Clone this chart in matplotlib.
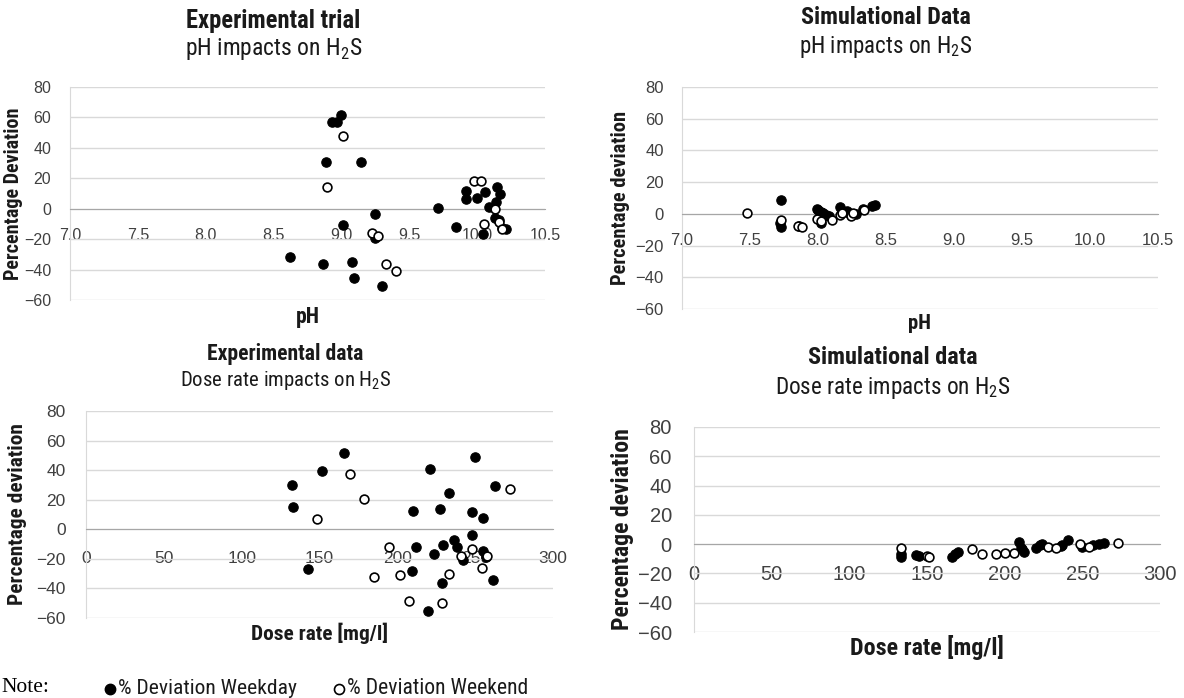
import matplotlib
matplotlib.use("Agg")
import matplotlib.pyplot as plt
from matplotlib import font_manager

W, H = 1184, 698

# ---- data
# experimental, pH
ph_exp_wd = [9.00, 8.93, 8.97, 8.885, 9.145, 10.15, 9.92, 10.06, 10.17, 9.92, 10.00, 10.14,
             9.71, 10.09, 9.245, 10.135, 10.16, 9.01, 9.845, 10.21, 10.18, 10.04, 9.25,
             8.62, 8.865, 9.08, 9.09, 9.30]
dev_ph_exp_wd = [61.5, 56.8, 56.8, 30.5, 30.5, 14.5, 11.5, 11.0, 9.5, 6.5, 7.0, 4.5,
                 0.6, 1.0, -3.5, -6.0, -7.5, -10.8, -12.0, -13.2, -12.8, -16.5, -19.5,
                 -31.8, -36.4, -34.9, -45.8, -50.6]
ph_exp_we = [9.01, 8.895, 9.98, 10.025, 10.13, 10.05, 10.16, 10.18, 9.225, 9.27, 9.33, 9.40]
dev_ph_exp_we = [48.0, 14.4, 18.5, 18.0, 0.0, -10.0, -8.5, -13.2, -16.0, -18.0, -36.6, -41.0]

# simulation, pH
ph_sim_wd = [7.73, 7.72, 7.73, 7.86, 7.99, 8.00, 8.02, 8.04, 8.06, 8.08, 8.02, 8.16, 8.18,
             8.21, 8.23, 8.28, 8.33, 8.40, 8.42]
dev_ph_sim_wd = [9.0, -5.5, -8.5, -7.5, 3.2, 2.5, 1.0, 0.5, -0.5, -1.5, -6.0, 4.2, 1.5,
                 2.0, 0.5, 0.0, 3.0, 4.8, 5.4]
ph_sim_we = [7.48, 7.73, 7.85, 7.88, 7.99, 8.02, 8.10, 8.16, 8.18, 8.24, 8.26, 8.34]
dev_ph_sim_we = [0.3, -3.8, -7.8, -8.5, -3.5, -4.3, -4.0, -1.0, 0.5, -1.5, 0.5, 2.5]

# experimental, dose rate
dose_exp_wd = [132.4, 132.8, 151.3, 166.0, 142.4, 210.0, 212.0, 209.5, 221.2, 223.5, 227.7,
               229.5, 233.0, 236.5, 238.3, 242.0, 228.5, 220.0, 249.8, 248.1, 248.1, 255.1,
               255.1, 256.8, 262.8, 261.6]
dev_dose_exp_wd = [30.2, 15.1, 39.3, 51.9, -26.7, 12.1, -12.2, -27.9, 40.5, -16.5, 14.0,
                   -10.8, 24.4, -7.1, -11.8, -21.0, -36.5, -55.0, 48.8, 11.6, -4.0, 7.4,
                   -14.7, -18.6, 29.1, -34.2]
dose_exp_we = [148.7, 169.6, 178.5, 194.5, 185.0, 201.5, 207.3, 228.5, 233.5, 241.0, 248.0,
               254.1, 257.3, 272.4]
dev_dose_exp_we = [7.0, 37.4, 20.2, -11.7, -32.0, -30.7, -48.5, -50.0, -30.3, -18.0, -13.0,
                   -26.3, -18.4, 27.4]

# simulation, dose rate
dose_sim_wd = [133.0, 133.5, 143.0, 145.0, 166.0, 168.0, 170.0, 209.5, 210.5, 211.0, 212.5,
               220.0, 222.5, 224.0, 236.0, 237.0, 240.5, 249.5, 257.0, 261.0, 264.0]
dev_dose_sim_wd = [-7.0, -8.8, -7.6, -8.3, -8.8, -7.0, -5.1, 1.5, -2.4, -3.5, -5.2,
                   -2.4, -0.8, 0.3, -1.5, -0.8, 2.8, -1.8, -0.5, 0.4, 1.1]
dose_sim_we = [133.3, 150.0, 151.0, 179.0, 185.5, 194.5, 200.5, 206.0, 228.0, 233.0, 248.3,
               254.3, 273.0]
dev_dose_sim_we = [-2.8, -8.1, -8.8, -3.5, -6.5, -6.5, -6.0, -6.0, -2.0, -2.4, 0.4, -1.8, 1.1]

ph_ticks = [7.0, 7.5, 8.0, 8.5, 9.0, 9.5, 10.0, 10.5]
dose_ticks = [0, 50, 100, 150, 200, 250, 300]
dev_ticks = [-60, -40, -20, 0, 20, 40, 60, 80]
series_labels = ["% Deviation Weekday", "% Deviation Weekend"]


def pick_narrow():
    fl = font_manager.fontManager.ttflist
    names = {f.name for f in fl}
    for fam in ("Liberation Sans Narrow", "Roboto Condensed", "Open Sans Condensed",
                "Noto Sans Condensed", "DejaVu Sans Condensed"):
        if fam in names:
            return fam, "normal"
    for fam in ("Roboto", "Noto Sans", "DejaVu Sans", "Open Sans"):
        for f in fl:
            if f.name == fam and str(f.stretch) in ("condensed", "semi-condensed"):
                return fam, "condensed"
    return "Roboto", "normal"


NARROW, STRETCH = pick_narrow()
SANS = "Liberation Sans"
SERIF = "Liberation Serif"
plt.rcParams["mathtext.fontset"] = "custom"
plt.rcParams["mathtext.rm"] = NARROW

GRID, AXIS, TXT, INK = "#d9d9d9", "#a6a6a6", "#404040", "#1a1a1a"

fig = plt.figure(figsize=(W / 100, H / 100), dpi=100)
to_fit = []  # (text, target px, rotated)


def px(x, y):
    return x / W, 1 - y / H


def label(x, y, s, width, bold=False, rot=0):
    t = fig.text(*px(x, y), s, ha="center", va="center", rotation=rot, fontsize=12,
                 fontweight="bold" if bold else "normal", family=NARROW,
                 fontstretch=STRETCH, color=INK)
    to_fit.append((t, width, rot != 0))
    return t


def panel(box, xs_wd, ys_wd, xs_we, ys_we, xticks, fmt, tick_fs, pads, texts):
    l, t, r, b = box
    ax = fig.add_axes([l / W, 1 - b / H, (r - l) / W, (b - t) / H])
    ax.scatter(xs_wd, ys_wd, s=46, c="black", edgecolors="black", linewidths=0.8, zorder=3,
               clip_on=False)
    ax.scatter(xs_we, ys_we, s=40, c="white", edgecolors="black", linewidths=1.2, zorder=4,
               clip_on=False)
    ax.set_xlim(xticks[0], xticks[-1])
    ax.set_ylim(-60, 80)
    ax.set_xticks(xticks)
    ax.set_xticklabels([fmt.format(v) for v in xticks])
    ax.set_yticks(dev_ticks)
    ax.yaxis.grid(True, color=GRID, lw=1.0)
    ax.set_axisbelow(True)
    ax.spines["bottom"].set_position(("data", 0))
    ax.spines["bottom"].set_color(AXIS)
    ax.spines["left"].set_color(GRID)
    for s in ("top", "right"):
        ax.spines[s].set_visible(False)
    ax.tick_params(length=0, labelsize=tick_fs, colors=TXT)
    ax.tick_params(axis="x", pad=pads[0])
    ax.tick_params(axis="y", pad=pads[1])
    for lab in ax.get_xticklabels() + ax.get_yticklabels():
        lab.set_fontfamily(SANS)

    (title, tw, ty), (sub, sw, sy), (xl, xw, xy), (yl, yw, yx) = texts
    cx = (l + r) / 2
    label(cx - 34, ty, title, tw, bold=True)
    label(cx - 34, sy, sub, sw)
    label(cx, xy, xl, xw, bold=True)
    label(yx, (t + b) / 2, yl, yw, bold=True, rot=90)
    return ax


panel((70, 87, 545, 300), ph_exp_wd, dev_ph_exp_wd, ph_exp_we, dev_ph_exp_we,
      ph_ticks, "{:.1f}", 11.5, (14, 13.5),
      [("Experimental trial", 175, 21), ("pH impacts on H$_2$S", 178, 49),
       ("pH", 24, 317), ("Percentage Deviation", 173, 14)])
panel((682, 87, 1158, 309), ph_sim_wd, dev_ph_sim_wd, ph_sim_we, dev_ph_sim_we,
      ph_ticks, "{:.1f}", 12, (14, 13),
      [("Simulational Data", 170, 17), ("pH impacts on H$_2$S", 174, 47),
       ("pH", 23, 323), ("Percentage deviation", 175, 621)])
panel((86, 411, 553, 618), dose_exp_wd, dev_dose_exp_wd, dose_exp_we, dev_dose_exp_we,
      dose_ticks, "{:d}", 12.5, (15.5, 14.5),
      [("Experimental data", 156, 354), ("Dose rate impacts on H$_2$S", 212, 381),
       ("Dose rate [mg/l]", 137, 633), ("Percentage deviation", 182, 18)])
panel((694, 427, 1160, 632), dose_sim_wd, dev_dose_sim_wd, dose_sim_we, dev_dose_sim_we,
      dose_ticks, "{:d}", 14.5, (15, 16),
      [("Simulational data", 170, 358), ("Dose rate impacts on H$_2$S", 236, 388),
       ("Dose rate [mg/l]", 154, 648), ("Percentage deviation", 203, 622)])

# legend row under the bottom-left panel
fig.text(*px(1, 688), "Note:", ha="left", va="center", fontsize=15.5, family=SERIF)
leg = fig.add_axes([0, 0, 1, 1])
leg.set_xlim(0, W)
leg.set_ylim(H, 0)
leg.axis("off")
leg.plot([110], [689], "o", ms=7.5, mfc="black", mec="black")
leg.plot([339], [689], "o", ms=7.2, mfc="white", mec="black", mew=1.2)
for x0, s, w in ((118, series_labels[0], 178), (347, series_labels[1], 181)):
    t = fig.text(*px(x0, 688), s, ha="left", va="center", fontsize=12, family=NARROW,
                 fontstretch=STRETCH, color=INK)
    to_fit.append((t, w, False))

# scale every label so its rendered length matches the reference
rend = fig.canvas.get_renderer()
for t, target, rotated in to_fit:
    bb = t.get_window_extent(rend)
    size = bb.height if rotated else bb.width
    t.set_fontsize(t.get_fontsize() * target / size)

fig.savefig("out.png", dpi=100)
